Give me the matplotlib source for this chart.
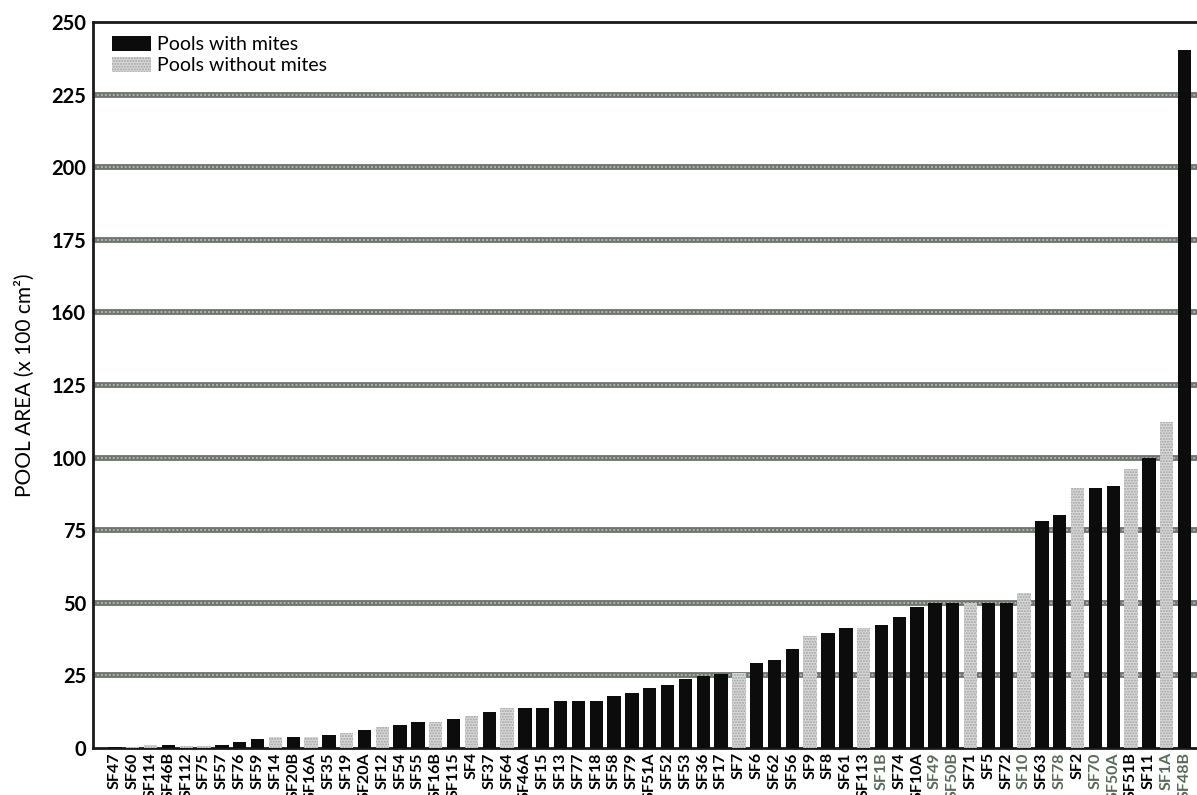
import matplotlib
matplotlib.use("Agg")
import matplotlib.pyplot as plt
from matplotlib.patches import Patch

plt.rcParams['font.family'] = ['Lato', 'DejaVu Sans']

pools = ["SF47", "SF60", "SF114", "SF46B", "SF112", "SF75", "SF57", "SF76", "SF59", "SF14",
         "SF20B", "SF16A", "SF35", "SF19", "SF20A", "SF12", "SF54", "SF55", "SF16B", "SF115",
         "SF4", "SF37", "SF64", "SF46A", "SF15", "SF13", "SF77", "SF18", "SF58", "SF79",
         "SF51A", "SF52", "SF53", "SF36", "SF17", "SF7", "SF6", "SF62", "SF56", "SF9",
         "SF8", "SF61", "SF113", "SF1B", "SF74", "SF10A", "SF49", "SF50B", "SF71", "SF5",
         "SF72", "SF10", "SF63", "SF78", "SF2", "SF70", "SF50A", "SF51B", "SF11", "SF1A",
         "SF48B"]

area = [0.4, 0.3, 1.0, 1.1, 0.8, 0.8, 1.2, 1.9, 3.0, 3.7,
        3.7, 3.7, 4.4, 5.3, 6.2, 7.1, 8.0, 9.0, 9.0, 10.0,
        11.0, 12.5, 13.7, 13.7, 13.7, 16.3, 16.3, 16.3, 18.0, 19.1,
        20.8, 21.7, 23.8, 24.7, 25.5, 25.7, 29.2, 30.3, 34.0, 38.6,
        39.5, 41.2, 41.4, 42.2, 45.0, 48.7, 50.0, 50.0, 50.0, 50.0,
        50.0, 53.5, 78.2, 80.1, 89.4, 89.4, 90.2, 96.0, 99.8, 112.4,
        240.4]

# 1 = pools with mites, 0 = pools without mites
mites = [1, 0, 0, 1, 0, 0, 1, 1, 1, 0,
         1, 0, 1, 0, 1, 0, 1, 1, 0, 1,
         0, 1, 0, 1, 1, 1, 1, 1, 1, 1,
         1, 1, 1, 1, 1, 0, 1, 1, 1, 0,
         1, 1, 0, 1, 1, 1, 1, 1, 0, 1,
         1, 0, 1, 1, 0, 1, 1, 0, 1, 0,
         1]

ytick_values = [0, 25, 50, 75, 100, 125, 150, 175, 200, 225, 250]
ytick_labels = ["0", "25", "50", "75", "100", "125", "160", "175", "200", "225", "250"]

faded_labels = {"SF1B", "SF49", "SF50B", "SF10", "SF78", "SF70", "SF50A", "SF1A", "SF48B"}

fig = plt.figure(figsize=(11.97, 7.95), dpi=100)
ax = fig.add_axes([0.0777, 0.0591, 0.9223, 0.9132])

x = list(range(len(pools)))

# grid lines (textured grey)
for v in ytick_values[1:-1]:
    ax.axhline(v, color="#6f756f", lw=4.2, zorder=1)
    ax.axhline(v, color="#b9bdb9", lw=1.3, ls=(0, (1, 1.2)), zorder=1.1)

black_x = [xi for xi, m in zip(x, mites) if m == 1]
black_y = [a for a, m in zip(area, mites) if m == 1]
grey_x = [xi for xi, m in zip(x, mites) if m == 0]
grey_y = [a for a, m in zip(area, mites) if m == 0]

ax.bar(black_x, black_y, width=0.75, color="#0c0c0c", lw=0, zorder=3)
ax.bar(grey_x, grey_y, width=0.75, facecolor="#dadada", edgecolor="#a0a0a0",
       hatch="......", lw=0, zorder=3)

ax.set_xlim(-1.23, 60.7)
ax.set_ylim(0, 250)

ax.set_yticks(ytick_values)
ax.set_yticklabels(ytick_labels, fontsize=14.5, fontweight="bold")
ax.set_xticks(x)
ax.set_xticklabels(pools, rotation=90, fontsize=11.5, fontweight="bold", va="top")
for lbl in ax.get_xticklabels():
    if lbl.get_text() in faded_labels:
        lbl.set_color("#5a6a5a")
ax.tick_params(axis="both", length=0)
ax.tick_params(axis="y", pad=5)
ax.tick_params(axis="x", pad=3)

ax.set_ylabel("POOL AREA (x 100 cm²)", fontsize=15, labelpad=12)

for s in ["left", "bottom", "top"]:
    ax.spines[s].set_linewidth(2.0)
    ax.spines[s].set_color("#1a1a1a")
ax.spines["right"].set_visible(False)

handles = [Patch(facecolor="#0c0c0c", lw=0, label="Pools with mites"),
           Patch(facecolor="#dadada", edgecolor="#a0a0a0", hatch="......", lw=0,
                 label="Pools without mites")]
ax.legend(handles=handles, loc="upper left", bbox_to_anchor=(0.005, 1.0), frameon=False,
          fontsize=14, handlelength=2.0, handleheight=0.8, handletextpad=0.3,
          labelspacing=0.2, borderaxespad=0.3)

fig.savefig("out.png", dpi=100)
